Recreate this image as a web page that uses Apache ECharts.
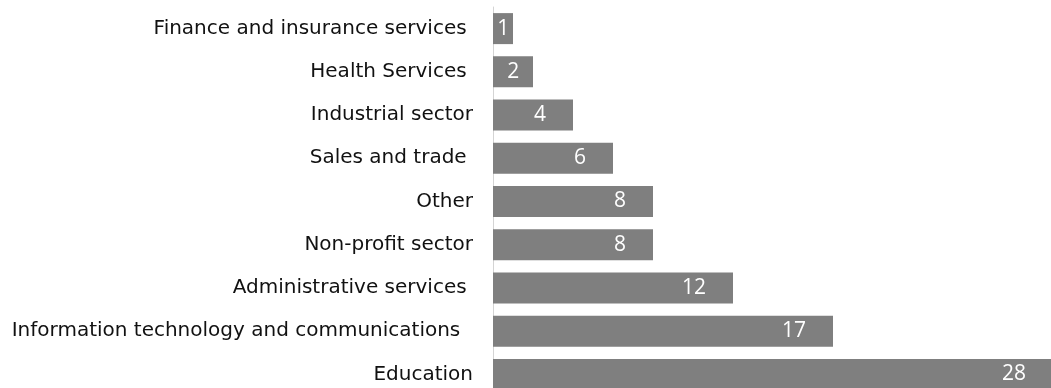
<!DOCTYPE html>
<html>
<head>
<meta charset="utf-8">
<script src="https://cdn.jsdelivr.net/npm/echarts@6/dist/echarts.min.js"></script>
<style>
  html, body { margin: 0; padding: 0; background: #ffffff; }
  #chart { width: 1051px; height: 388px; }
</style>
</head>
<body>
<div id="chart"></div>
<script>
// Sector categories, top to bottom (some carry trailing spaces as typed in the source sheet)
const categories = [
  'Finance and insurance services ',
  'Health Services ',
  'Industrial sector',
  'Sales and trade ',
  'Other',
  'Non-profit sector',
  'Administrative services ',
  'Information technology and communications  ',
  'Education'
];
const counts = [1, 2, 4, 6, 8, 8, 12, 17, 28];

const PX_PER_UNIT = 20;

// Value labels sit inside the bar end; short bars keep their label centred-ish
const barData = counts.map(function (v) {
  const barPx = v * PX_PER_UNIT;
  const labelPx = String(v).length * 12.5;
  const dist = Math.max(2, Math.min(27, (barPx - labelPx) / 2));
  return { value: v, label: { distance: dist } };
});

const chart = echarts.init(document.getElementById('chart'), null, { renderer: 'canvas' });
chart.setOption({
  animation: false,
  backgroundColor: '#ffffff',
  grid: {
    left: 493, top: 7, width: 560, height: 389,
    containLabel: false,
    outerBoundsMode: 'none'
  },
  xAxis: {
    type: 'value',
    min: 0,
    max: 28,
    show: false
  },
  yAxis: {
    type: 'category',
    data: categories,
    inverse: true,
    axisLine: { show: true, lineStyle: { color: '#d4d4d4', width: 1 } },
    axisTick: { show: false },
    axisLabel: {
      margin: 20,
      color: '#111111',
      fontFamily: 'DejaVu Sans',
      fontSize: 20
    }
  },
  series: [{
    type: 'bar',
    data: barData,
    barWidth: 31,
    itemStyle: { color: '#7f7f7f' },
    label: {
      show: true,
      position: 'insideRight',
      color: '#ffffff',
      fontFamily: 'Open Sans',
      fontSize: 21
    }
  }]
});
</script>
</body>
</html>
